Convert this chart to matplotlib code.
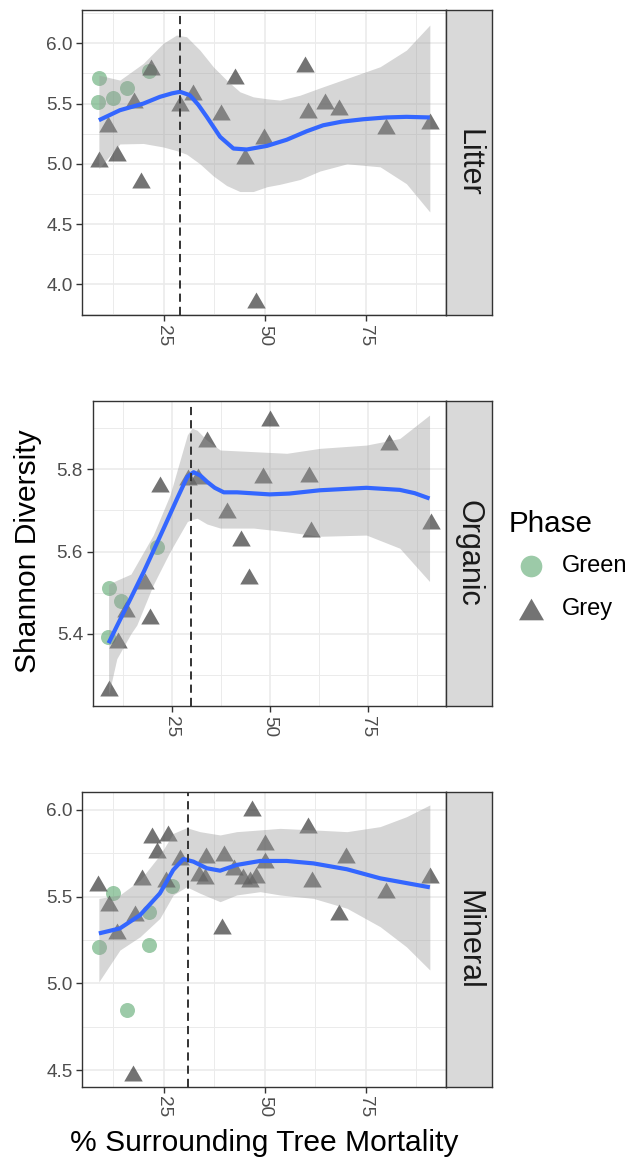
import matplotlib
matplotlib.use("Agg")
import matplotlib.pyplot as plt
from matplotlib.lines import Line2D
from matplotlib.path import Path

# ---------------- data ----------------
# Litter
litter_green_x = [8.9, 8.7, 12.3, 15.8, 21.4]
litter_green_y = [5.709, 5.51, 5.543, 5.631, 5.77]
litter_grey_x = [8.9, 11.2, 13.3, 17.7, 19.3, 21.7, 29.0, 32.1, 39.2, 42.6, 45.0, 47.8, 49.8,
                 60.0, 60.6, 64.9, 68.2, 80.0, 90.8]
litter_grey_y = [5.04, 5.329, 5.09, 5.529, 4.869, 5.806, 5.506, 5.598, 5.431, 5.731, 5.063, 3.872,
                 5.229, 5.825, 5.446, 5.52, 5.473, 5.313, 5.357]
litter_fit_x = [8.9, 14.1, 19.9, 24.0, 27.0, 29.0, 31.4, 33.5, 35.6, 38.9, 42.2, 45.5, 50.5,
                55.4, 60.3, 64.4, 69.0, 74.3, 80.0, 85.0, 90.8]
litter_fit_y = [5.362, 5.445, 5.50, 5.556, 5.585, 5.598, 5.57, 5.49, 5.39, 5.224, 5.127, 5.119,
                5.149, 5.20, 5.27, 5.32, 5.35, 5.37, 5.385, 5.39, 5.385]
litter_band_x = [8.9, 14.1, 19.9, 24.8, 28.1, 30.6, 33.9, 37.2, 40.5, 43.8, 47.1, 50.5, 53.7,
                 58.7, 63.6, 70.3, 78.5, 85.0, 90.8]
litter_band_hi = [5.736, 5.695, 5.834, 6.0, 6.069, 6.055, 5.944, 5.806, 5.695, 5.598, 5.556, 5.54,
                  5.529, 5.57, 5.63, 5.709, 5.806, 5.944, 6.152]
litter_band_lo = [4.96, 5.165, 5.169, 5.14, 5.11, 5.08, 5.0, 4.90, 4.82, 4.77, 4.77, 4.81, 4.83,
                  4.87, 4.94, 5.0, 4.975, 4.835, 4.6]
litter_break = 29.0

# Organic
organic_green_x = [9.0, 12.1, 8.7, 21.3]
organic_green_y = [5.511, 5.48, 5.393, 5.612]
organic_grey_x = [8.9, 11.3, 13.3, 18.1, 19.4, 21.9, 29.2, 31.8, 34.0, 39.0, 42.6, 44.7, 48.2,
                  50.0, 60.0, 60.6, 80.5, 91.2]
organic_grey_y = [5.267, 5.385, 5.46, 5.527, 5.442, 5.764, 5.782, 5.784, 5.875, 5.70, 5.634, 5.541,
                  5.786, 5.924, 5.788, 5.655, 5.866, 5.675]
organic_fit_x = [8.9, 11.0, 14.6, 17.9, 20.5, 23.0, 26.4, 29.0, 30.6, 32.3, 34.0, 36.0, 38.3,
                 41.7, 50.0, 55.0, 62.8, 74.7, 83.2, 87.0, 90.8]
organic_fit_y = [5.377, 5.418, 5.487, 5.551, 5.605, 5.657, 5.729, 5.782, 5.793, 5.785, 5.77, 5.755,
                 5.744, 5.744, 5.739, 5.741, 5.749, 5.755, 5.75, 5.742, 5.729]
organic_band_x = [8.9, 11.0, 14.6, 16.1, 20.3, 24.6, 29.0, 30.2, 31.5, 34.0, 37.4, 45.9, 54.4,
                  62.8, 74.7, 83.2, 90.8]
organic_band_hi = [5.52, 5.53, 5.545, 5.57, 5.64, 5.738, 5.884, 5.90, 5.895, 5.871, 5.847, 5.843,
                   5.839, 5.851, 5.859, 5.875, 5.932]
organic_band_lo = [5.25, 5.339, 5.40, 5.421, 5.519, 5.60, 5.673, 5.678, 5.681, 5.667, 5.657, 5.657,
                   5.648, 5.637, 5.64, 5.608, 5.527]
organic_break = 30.0

# Mineral
mineral_green_x = [8.9, 12.5, 15.8, 21.4, 21.4, 27.1]
mineral_green_y = [5.211, 5.519, 4.846, 5.41, 5.221, 5.561]
mineral_grey_x = [8.8, 11.5, 13.3, 17.4, 17.8, 19.5, 22.0, 23.2, 26.0, 25.4, 29.0, 33.7, 35.1,
                  35.4, 39.3, 39.9, 42.3, 44.5, 46.3, 46.7, 47.9, 50.0, 50.0, 60.6, 61.6, 68.2,
                  70.0, 80.0, 90.8]
mineral_grey_y = [5.577, 5.465, 5.30, 4.481, 5.404, 5.615, 5.856, 5.77, 5.865, 5.60, 5.73, 5.635,
                  5.62, 5.74, 5.331, 5.754, 5.673, 5.62, 5.60, 6.01, 5.625, 5.817, 5.711, 5.913,
                  5.60, 5.413, 5.74, 5.538, 5.625]
mineral_fit_x = [8.9, 14.1, 19.1, 24.0, 27.3, 29.8, 32.3, 35.6, 38.9, 43.0, 48.8, 55.4, 62.0,
                 70.3, 78.5, 90.8]
mineral_fit_y = [5.288, 5.317, 5.394, 5.519, 5.654, 5.717, 5.702, 5.664, 5.65, 5.683, 5.706,
                 5.706, 5.692, 5.658, 5.606, 5.554]
mineral_band_x = [8.9, 14.1, 19.1, 24.0, 27.3, 30.6, 33.9, 38.9, 43.0, 48.8, 53.7, 62.0, 70.3,
                  78.5, 85.0, 90.8]
mineral_band_hi = [5.49, 5.51, 5.596, 5.74, 5.865, 5.898, 5.875, 5.856, 5.875, 5.885, 5.894,
                   5.885, 5.875, 5.904, 5.961, 6.029]
mineral_band_lo = [5.009, 5.192, 5.269, 5.375, 5.51, 5.557, 5.52, 5.471, 5.51, 5.529, 5.51, 5.49,
                   5.433, 5.327, 5.211, 5.077]
mineral_break = 31.0

x_ticks = [25, 50, 75]
x_tick_labels = ["25", "50", "75"]
litter_yticks = [4.0, 4.5, 5.0, 5.5, 6.0]
organic_yticks = [5.4, 5.6, 5.8]
mineral_yticks = [4.5, 5.0, 5.5, 6.0]
phase_labels = ["Green", "Grey"]

# ---------------- style ----------------
plt.rcParams['font.family'] = ['Liberation Sans', 'DejaVu Sans']
W, H = 631, 1163
fig = plt.figure(figsize=(W / 100, H / 100), dpi=100)

GREEN = '#5aa86e'
GREY = '#3d3d3d'
tri = Path([(-1, -0.866), (1, -0.866), (0, 0.866), (-1, -0.866)],
           [Path.MOVETO, Path.LINETO, Path.LINETO, Path.CLOSEPOLY])


def px_axes(left, right, top, bottom):
    return fig.add_axes([left / W, 1 - bottom / H, (right - left) / W, (bottom - top) / H])


def panel(left, top, bottom, gx, gy, tx, ty, fx, fy, bx, blo, bhi, brk, yticks, ylim, xlim, name):
    right = 446
    ax = px_axes(left, right, top, bottom)
    ax.set_facecolor('white')
    ax.plot(gx, gy, ls='none', marker='o', ms=10.8, color=GREEN, alpha=0.6, mew=0, zorder=3)
    ax.plot(tx, ty, ls='none', marker=tri, ms=13.3, color=GREY, alpha=0.72, mew=0, zorder=3)
    ax.fill_between(bx, blo, bhi, color='#999999', alpha=0.4, lw=0, zorder=4)
    ax.plot(fx, fy, color='#3366FF', lw=3, zorder=5, solid_capstyle='butt', solid_joinstyle='round')
    ax.axvline(brk, color='#333333', lw=1.4, ls=(0, (4.2, 2.6)), zorder=6)
    ax.set_xlim(*xlim)
    ax.set_ylim(*ylim)
    ax.set_xticks(x_ticks)
    ax.set_xticklabels(x_tick_labels)
    ax.set_yticks(yticks)
    ax.set_yticklabels([f"{v:.1f}" for v in yticks])
    ax.set_xticks([12.5, 37.5, 62.5, 87.5], minor=True)
    step = yticks[1] - yticks[0]
    minors = [v + step / 2 for v in [yticks[0] - step] + list(yticks)]
    ax.set_yticks([m for m in minors if ylim[0] < m < ylim[1]], minor=True)
    ax.grid(which='major', color='#EBEBEB', lw=1.2, zorder=0)
    ax.grid(which='minor', color='#EBEBEB', lw=0.7, zorder=0)
    ax.set_axisbelow(True)
    ax.tick_params(which='major', length=4, width=1, color='#333333',
                   labelsize=13.7, labelcolor='#4D4D4D', pad=3)
    ax.tick_params(which='minor', length=0)
    ax.tick_params(axis='x', labelrotation=-90)
    for s in ax.spines.values():
        s.set_color('#333333')
        s.set_linewidth(1.0)
    # facet strip
    sx = px_axes(446, 491.7, top, bottom)
    sx.set_facecolor('#D9D9D9')
    sx.set_xticks([])
    sx.set_yticks([])
    for s in sx.spines.values():
        s.set_color('#333333')
        s.set_linewidth(1.0)
    sx.text(0.5, 0.5, name, rotation=-90, ha='center', va='center',
            fontsize=22, color='#1A1A1A', transform=sx.transAxes)
    return ax


panel(82.3, 10, 315, litter_green_x, litter_green_y, litter_grey_x, litter_grey_y,
      litter_fit_x, litter_fit_y, litter_band_x, litter_band_lo, litter_band_hi, litter_break,
      litter_yticks, (3.745, 6.277), (4.8, 94.8), "Litter")
panel(92.7, 400.7, 706, organic_green_x, organic_green_y, organic_grey_x, organic_grey_y,
      organic_fit_x, organic_fit_y, organic_band_x, organic_band_lo, organic_band_hi,
      organic_break, organic_yticks, (5.224, 5.967), (4.85, 95.0), "Organic")
panel(82.3, 792.3, 1086.7, mineral_green_x, mineral_green_y, mineral_grey_x, mineral_grey_y,
      mineral_fit_x, mineral_fit_y, mineral_band_x, mineral_band_lo, mineral_band_hi,
      mineral_break, mineral_yticks, (4.404, 6.102), (4.8, 94.8), "Mineral")

# axis titles
fig.text(28.3 / W, 1 - 551.5 / H, "Shannon Diversity", rotation=90, ha='center', va='center',
         fontsize=21.6, color='black')
fig.text(264 / W, 1 - 1151.3 / H, "% Surrounding Tree Mortality", ha='center', va='baseline',
         fontsize=21.6, color='black')

# legend
fig.text(508.3 / W, 1 - 531.7 / H, "Phase", ha='left', va='baseline', fontsize=21.3, color='black')
fig.add_artist(Line2D([530.7 / W], [1 - 566 / H], transform=fig.transFigure, ls='none',
                      marker='o', ms=15.6, color=GREEN, alpha=0.6, mew=0))
fig.add_artist(Line2D([530.7 / W], [1 - 609 / H], transform=fig.transFigure, ls='none',
                      marker=tri, ms=18, color=GREY, alpha=0.72, mew=0))
fig.text(561.7 / W, 1 - 566 / H, phase_labels[0], ha='left', va='center', fontsize=17, color='black')
fig.text(561.7 / W, 1 - 609 / H, phase_labels[1], ha='left', va='center', fontsize=17, color='black')

fig.savefig("out.png", dpi=100, facecolor='white')
